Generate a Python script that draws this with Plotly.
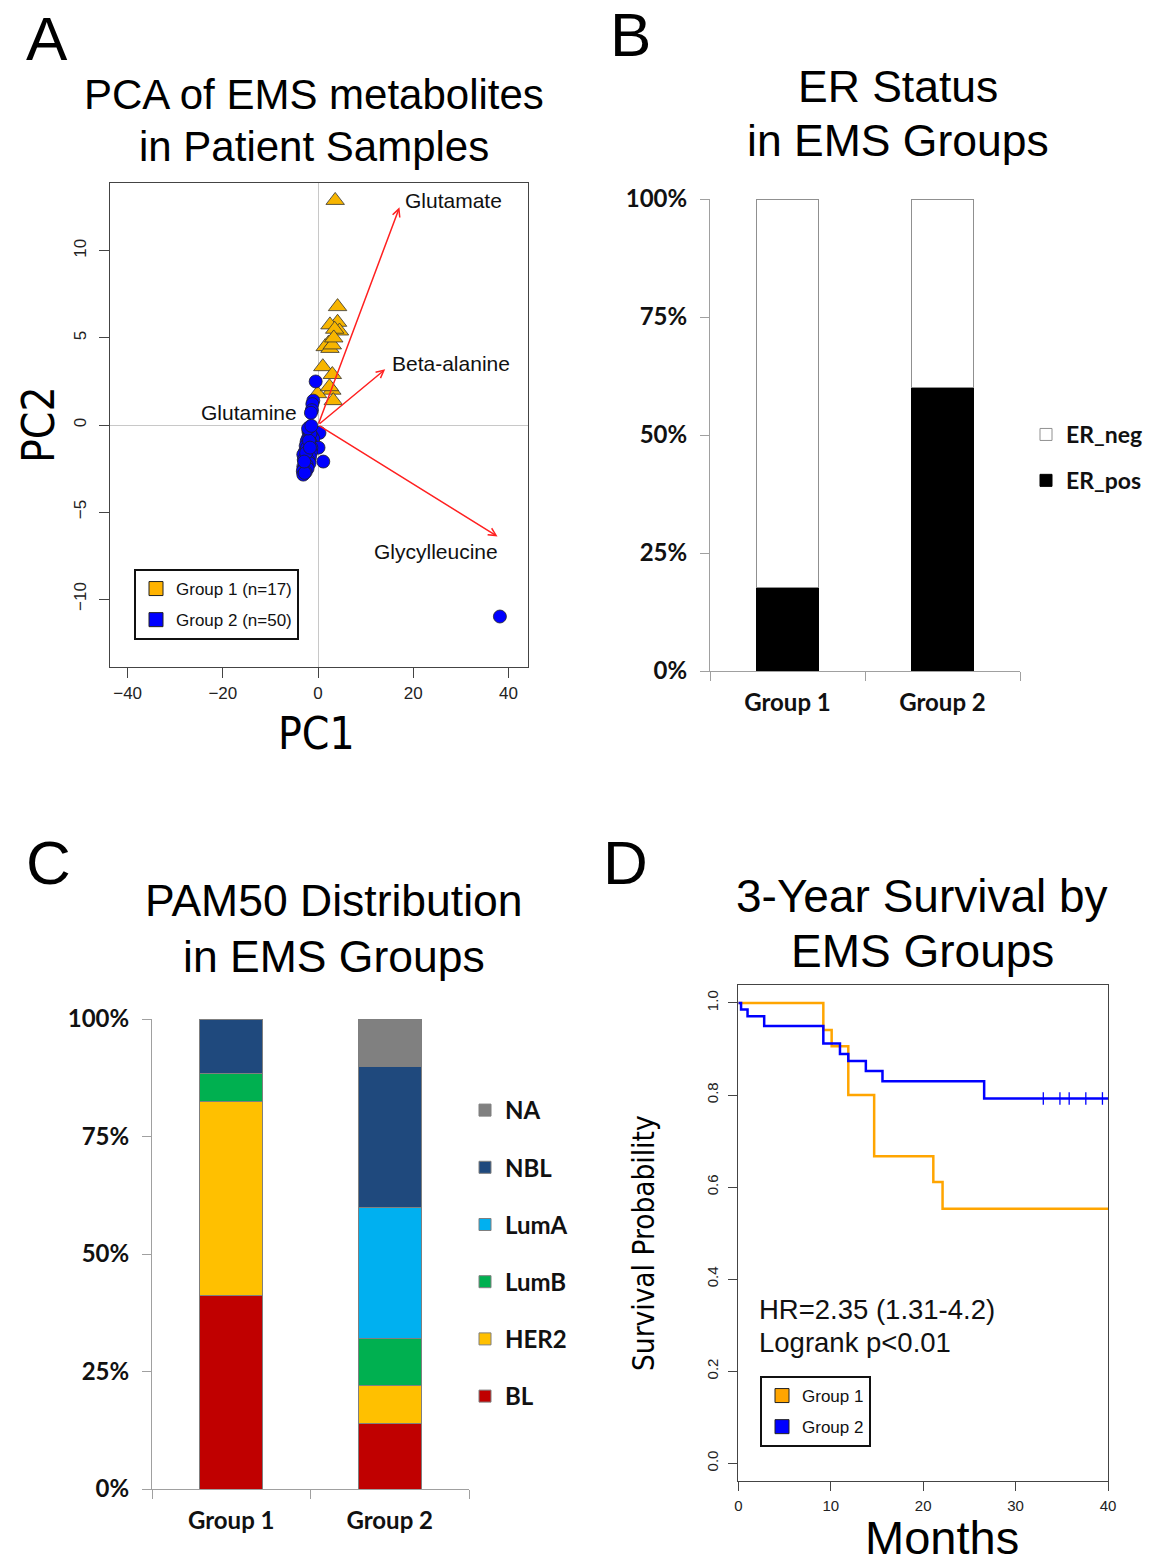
import plotly.graph_objects as go

W, H = 1151, 1564

# ---------------- Data ----------------
# Panel A: PCA scores
g1_pc1 = [3.6, 4.1, 4.1, 2.5, 4.5, 3.5, 2.2, 1.5, 2.5, 3.0, 1.0, 3.0, 2.9, -0.1, 3.2, 2.4, 3.3]
g1_pc2 = [12.9, 6.8, 5.9, 5.75, 5.4, 5.5, 4.7, 4.5, 4.4, 4.6, 3.35, 2.9, 2.0, 1.8, 1.4, 2.2, 5.0]
g2_pc1 = [38.2, -0.5, -1.0, -1.2, -1.3, -1.5,
          -1.7, -1.5, -1.2, -2.0, 0.3, -1.3, -1.8, -2.2, -1.0, -2.4, -1.6, -2.0, -2.6, 0.1,
          -1.4, -2.4, -1.9, -2.8, -1.5, -3.1, -2.2, -1.7, -2.6, -3.0, 1.1, -2.0, -2.7, -1.8,
          -2.4, -3.1, -2.9, -2.2, -3.2, -2.6, -3.1, -2.8, -1.6, -2.3, -1.9, -2.5, -1.7, -2.1,
          -1.4, -2.9]
g2_pc2 = [-11.0, 2.5, 1.4, 1.2, 0.85, 0.7,
          -0.1, -0.2, -0.3, -0.4, -0.45, -0.65, -0.6, -0.8, -0.8, -0.95, -1.0, -1.1, -1.2, -1.3,
          -1.3, -1.45, -1.5, -1.55, -1.6, -1.7, -1.75, -1.85, -1.9, -2.0, -2.1, -2.05, -2.2, -2.2,
          -2.3, -2.4, -2.5, -2.5, -2.65, -2.7, -2.85, -2.75, -0.5, -1.3, -0.9, -1.6, -1.3, -0.2,
          -0.05, -2.1]
loading_names = ["Glutamate", "Beta-alanine", "Glutamine", "Glycylleucine"]
loading_pc1 = [17.1, 14.1, -0.5, 37.7]
loading_pc2 = [12.5, 3.2, -0.1, -6.4]
label_pc1 = [28.4, 27.9, -14.5, 24.8]
label_pc2 = [12.9, 3.56, 0.69, -7.24]

# Panel B: ER status
groups = ["Group 1", "Group 2"]
er_pos = [0.176, 0.60]
er_neg = [0.824, 0.40]

# Panel C: PAM50
pam50_names = ["BL", "HER2", "LumB", "LumA", "NBL", "NA"]
pam50_vals = {
    "BL":   [0.412, 0.14],
    "HER2": [0.412, 0.08],
    "LumB": [0.059, 0.10],
    "LumA": [0.0,   0.28],
    "NBL":  [0.117, 0.30],
    "NA":   [0.0,   0.10],
}
pam50_colors = {"BL": "#C00000", "HER2": "#FFC000", "LumB": "#00B050",
                "LumA": "#00B0F0", "NBL": "#1F497D", "NA": "#808080"}

# Panel D: Kaplan-Meier
g1_time = [0, 9.2, 10.1, 11.9, 14.7, 21.1, 22.1, 40]
g1_surv = [1.0, 0.941, 0.906, 0.80, 0.667, 0.611, 0.553, 0.553]
g2_time = [0, 0.3, 1.0, 2.8, 9.2, 11.0, 11.9, 13.8, 15.6, 26.6, 40]
g2_surv = [1.0, 0.986, 0.971, 0.950, 0.912, 0.889, 0.874, 0.852, 0.830, 0.7925, 0.7925]
g2_censor_time = [33.0, 34.8, 35.8, 37.6, 39.4]
g2_censor_surv = [0.7925, 0.7925, 0.7925, 0.7925, 0.7925]

# ---------------- Styles ----------------
ARIAL = "Liberation Sans, Arial, sans-serif"
NARROW = "Liberation Sans Narrow, DejaVu Sans Condensed, Arial, sans-serif"
CAL = "Lato, Carlito, Calibri, sans-serif"
ORANGE = "#F7B500"
BLUE = "#0000FF"

def dx(p):
    return p / W

def dy(p):
    return 1 - p / H

fig = go.Figure()

# ---- Panel A ----
fig.add_trace(go.Scatter(x=g1_pc1, y=g1_pc2, mode="markers", xaxis="x", yaxis="y",
                         marker=dict(symbol="triangle-up", size=16, color=ORANGE,
                                     line=dict(color="#333", width=0.8)),
                         showlegend=False))
fig.add_trace(go.Scatter(x=g2_pc1, y=g2_pc2, mode="markers", xaxis="x", yaxis="y",
                         marker=dict(symbol="circle", size=13, color=BLUE,
                                     line=dict(color="#222", width=0.8)),
                         showlegend=False))
fig.add_trace(go.Scatter(x=[None], y=[None], mode="markers", xaxis="x", yaxis="y",
                         name="Group 1 (n=17)", legend="legend", legendgroup="a1",
                         marker=dict(symbol="square", size=14, color="#FFB300",
                                     line=dict(color="#222", width=1))))
fig.add_trace(go.Scatter(x=[None], y=[None], mode="markers", xaxis="x", yaxis="y",
                         name="Group 2 (n=50)", legend="legend", legendgroup="a2",
                         marker=dict(symbol="square", size=14, color=BLUE,
                                     line=dict(color="#222", width=1))))

# ---- Panel B ----
fig.add_trace(go.Bar(x=groups, y=er_pos, name="ER_pos", xaxis="x2", yaxis="y2",
                     marker=dict(color="black", line=dict(color="black", width=1)),
                     width=0.4, legend="legend2", legendgroup="pos", legendrank=2))
fig.add_trace(go.Bar(x=groups, y=er_neg, name="ER_neg", xaxis="x2", yaxis="y2",
                     marker=dict(color="white", line=dict(color="#909090", width=1)),
                     width=0.4, legend="legend2", legendgroup="neg", legendrank=1))

# ---- Panel C ----
for i, nm in enumerate(pam50_names):
    fig.add_trace(go.Bar(x=groups, y=pam50_vals[nm], name=nm, xaxis="x3", yaxis="y3",
                         marker=dict(color=pam50_colors[nm], line=dict(color="#7f7f7f", width=1)),
                         width=0.4, legend="legend3", legendgroup=nm,
                         legendrank=100 - i))

# ---- Panel D ----
fig.add_trace(go.Scatter(x=g1_time, y=g1_surv, mode="lines", line_shape="hv",
                         xaxis="x4", yaxis="y4", line=dict(color="#FFA500", width=2.5),
                         showlegend=False))
fig.add_trace(go.Scatter(x=g2_time, y=g2_surv, mode="lines", line_shape="hv",
                         xaxis="x4", yaxis="y4", line=dict(color=BLUE, width=2.5),
                         showlegend=False))
fig.add_trace(go.Scatter(x=g2_censor_time, y=g2_censor_surv, mode="markers",
                         xaxis="x4", yaxis="y4",
                         marker=dict(symbol="line-ns", size=9, line=dict(color=BLUE, width=1.3)),
                         showlegend=False))
fig.add_trace(go.Scatter(x=[None], y=[None], mode="markers", xaxis="x4", yaxis="y4",
                         name="Group 1", legend="legend4", legendgroup="d1",
                         marker=dict(symbol="square", size=14, color="#FFA500",
                                     line=dict(color="#222", width=1))))
fig.add_trace(go.Scatter(x=[None], y=[None], mode="markers", xaxis="x4", yaxis="y4",
                         name="Group 2", legend="legend4", legendgroup="d2",
                         marker=dict(symbol="square", size=14, color=BLUE,
                                     line=dict(color="#222", width=1))))

# ---------------- Axes ----------------
r_axis = dict(showline=True, mirror=True, linecolor="#444", linewidth=1.2,
              ticks="outside", ticklen=10, tickcolor="#444", showgrid=False, automargin=False,
              tickfont=dict(family=ARIAL, size=17, color="#222"))

xl_axis = dict(showline=True, linecolor="#a0a0a0", linewidth=1, ticks="outside",
               ticklen=9, tickcolor="#a0a0a0", showgrid=False, zeroline=False, automargin=False,
               tickfont=dict(family=CAL, size=24, color="#111", weight="bold"))

fig.update_layout(
    xaxis=dict(domain=[dx(110), dx(528)], anchor="y", range=[-43.7, 44.1],
               tickvals=[-40, -20, 0, 20, 40], zeroline=True, zerolinecolor="#c8c8c8",
               zerolinewidth=1, **r_axis),
    yaxis=dict(domain=[dy(667), dy(183)], anchor="x", range=[-13.9, 13.9],
               tickvals=[-10, -5, 0, 5, 10], tickangle=-90, zeroline=True,
               zerolinecolor="#c8c8c8", zerolinewidth=1, ticklabelstandoff=6, **r_axis),
    xaxis2=dict(domain=[dx(710), dx(1020)], anchor="y2", type="category",
                tickson="boundaries", ticklabelstandoff=10, **xl_axis),
    yaxis2=dict(domain=[dy(671), dy(199)], anchor="x2", range=[0, 1],
                tickvals=[0, 0.25, 0.5, 0.75, 1.0],
                ticktext=["0%", "25%", "50%", "75%", "100%"], ticklabelstandoff=8, **xl_axis),
    xaxis3=dict(domain=[dx(152), dx(469)], anchor="y3", type="category",
                tickson="boundaries", ticklabelstandoff=10, **xl_axis),
    yaxis3=dict(domain=[dy(1489), dy(1019)], anchor="x3", range=[0, 1],
                tickvals=[0, 0.25, 0.5, 0.75, 1.0],
                ticktext=["0%", "25%", "50%", "75%", "100%"], ticklabelstandoff=8, **xl_axis),
    xaxis4=dict(domain=[dx(738.3), dx(1108)], anchor="y4", range=[0, 40],
                tickvals=[0, 10, 20, 30, 40], zeroline=False, ticklabelstandoff=2, **r_axis),
    yaxis4=dict(domain=[dy(1481), dy(985)], anchor="x4", range=[-0.0385, 1.039],
                tickvals=[0, 0.2, 0.4, 0.6, 0.8, 1.0], tickformat=".1f", tickangle=-90,
                zeroline=False, ticklabelstandoff=4, **r_axis),
)

for k in ["xaxis4", "yaxis4"]:
    fig.layout[k].tickfont.size = 15
fig.layout.xaxis4.ticklen = 9
fig.layout.yaxis4.ticklen = 9

# ---------------- Legends ----------------
fig.update_layout(
    legend=dict(x=dx(134), y=dy(569), xanchor="left", yanchor="top",
                bordercolor="#111", borderwidth=2, bgcolor="white",
                font=dict(family=ARIAL, size=17, color="#111"),
                itemwidth=30, tracegroupgap=6, traceorder="grouped"),
    legend2=dict(x=dx(1026), y=dy(413), xanchor="left", yanchor="top",
                 bgcolor="rgba(0,0,0,0)", traceorder="grouped",
                 tracegroupgap=13, itemwidth=30,
                 font=dict(family=CAL, size=23, color="#111", weight="bold")),
    legend3=dict(x=dx(465), y=dy(1088), xanchor="left", yanchor="top",
                 bgcolor="rgba(0,0,0,0)", traceorder="grouped",
                 tracegroupgap=23, itemwidth=30,
                 font=dict(family=CAL, size=24, color="#111", weight="bold")),
    legend4=dict(x=dx(760), y=dy(1376), xanchor="left", yanchor="top",
                 bordercolor="#111", borderwidth=2, bgcolor="white",
                 font=dict(family=ARIAL, size=17, color="#111"),
                 itemwidth=30, tracegroupgap=6, traceorder="grouped"),
)

# ---------------- Annotations ----------------
ann = []
# arrows in panel A
for nm, px_, py_ in zip(loading_names, loading_pc1, loading_pc2):
    ann.append(dict(x=px_, y=py_, ax=0, ay=0, xref="x", yref="y", axref="x", ayref="y",
                    text="", showarrow=True, arrowhead=5, arrowsize=1, arrowwidth=1.5,
                    arrowcolor="#FF2020", standoff=0, startstandoff=0))
for nm, lx, ly in zip(loading_names, label_pc1, label_pc2):
    ann.append(dict(x=lx, y=ly, xref="x", yref="y", text=nm, showarrow=False,
                    font=dict(family=ARIAL, size=21, color="#111")))

def paper_text(text, x, y, size, family=ARIAL, angle=0, anchor="center"):
    return dict(x=dx(x), y=dy(y), xref="paper", yref="paper", text=text, showarrow=False,
                textangle=angle, xanchor=anchor, yanchor="middle",
                font=dict(family=family, size=size, color="black"))

ann += [
    paper_text("A", 47, 38, 62),
    paper_text("B", 630, 35, 62),
    paper_text("C", 48, 862, 62),
    paper_text("D", 625, 862, 62),
    paper_text("PCA of EMS metabolites", 314, 95, 42),
    paper_text("in Patient Samples", 314, 146, 42),
    paper_text("ER Status", 898, 87, 44.5),
    paper_text("in EMS Groups", 898, 141, 44.5),
    paper_text("PAM50 Distribution", 334, 900, 44.5),
    paper_text("in EMS Groups", 334, 956, 44.5),
    paper_text("3-Year Survival by", 922, 896, 46),
    paper_text("EMS Groups", 922, 951, 46),
    paper_text("PC1", 316, 733, 44, family=NARROW),
    paper_text("PC2", 38, 425, 44, family=NARROW, angle=-90),
    paper_text("Months", 942, 1537, 47),
    paper_text("Survival Probability", 644, 1243, 29.5, family=NARROW, angle=-90),
]
ann.append(dict(x=2.0, y=0.333, xref="x4", yref="y4", xanchor="left", yanchor="middle",
                text="HR=2.35 (1.31-4.2)", showarrow=False,
                font=dict(family=ARIAL, size=27.5, color="#111")))
ann.append(dict(x=2.0, y=0.263, xref="x4", yref="y4", xanchor="left", yanchor="middle",
                text="Logrank p<0.01", showarrow=False,
                font=dict(family=ARIAL, size=27.5, color="#111")))

fig.update_layout(
    annotations=ann,
    barmode="stack",
    width=W, height=H,
    margin=dict(l=0, r=0, t=0, b=0, autoexpand=False),
    paper_bgcolor="white", plot_bgcolor="white",
)

fig.write_html("out.html", config={"displayModeBar": False},
               post_script="document.body.style.margin='0px';")
